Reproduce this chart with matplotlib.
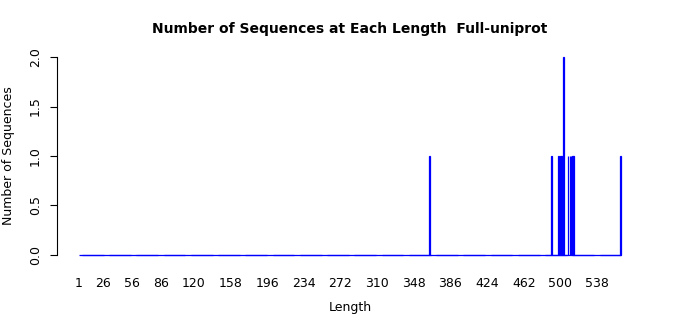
import numpy as np
import matplotlib
matplotlib.use("Agg")
import matplotlib.pyplot as plt

# Data
max_length = 562
nonzero_lengths = [364, 491, 498, 500, 501, 503, 508, 510, 511, 512, 513, 514, 562]
nonzero_counts = [1, 1, 1, 1, 1, 2, 1, 1, 1, 1, 1, 1, 1]
tick_labels = [1, 26, 56, 86, 120, 158, 196, 234, 272, 310, 348, 386, 424, 462, 500, 538]
yticks = [0.0, 0.5, 1.0, 1.5, 2.0]
title = "Number of Sequences at Each Length  Full-uniprot"

lengths = np.arange(1, max_length + 1)
counts = np.zeros(len(lengths))
for L, c in zip(nonzero_lengths, nonzero_counts):
    counts[L - 1] = c

W, H = 700, 315
fig = plt.figure(figsize=(W / 100, H / 100), dpi=100)

# pixel mapping
px_per_unit = (597 - 79) / (538 - 1)
ax_left_px, ax_right_px = 57, 643
ax = fig.add_axes([ax_left_px / W, (H - 262.9) / H, (ax_right_px - ax_left_px) / W, 213.8 / H])
xmin = 1 - (79 - ax_left_px) / px_per_unit
xmax = xmin + (ax_right_px - ax_left_px) / px_per_unit
ax.set_xlim(xmin, xmax)
ax.set_ylim(-0.08, 2.08)

bw = 0.8
ax.bar(lengths, counts, width=bw, color="#0000ff", edgecolor="#0000ff", linewidth=0.9)
# zero-height bars render as a continuous baseline
ax.plot([lengths[0] - bw / 2, lengths[-1] + bw / 2], [0, 0], color="#0000ff", linewidth=0.9,
        solid_capstyle="butt")

for s in ["top", "right", "bottom"]:
    ax.spines[s].set_visible(False)
ax.spines["left"].set_bounds(0, 2)
ax.spines["left"].set_linewidth(0.8)

ax.set_yticks(yticks)
ax.set_yticklabels([f"{v:.1f}" for v in yticks], rotation=90, va="center", fontsize=9)
ax.tick_params(axis="y", length=5, width=0.8, pad=6)
ax.set_xticks(tick_labels)
ax.set_xticklabels([str(v) for v in tick_labels], fontsize=9)
ax.tick_params(axis="x", length=0, pad=10)

fig.text(350 / W, 1 - 29 / H, title, ha="center", va="center", fontsize=10, fontweight="bold")
fig.text(350 / W, 1 - 307 / H, "Length", ha="center", va="center", fontsize=9)
fig.text(9 / W, 1 - 156 / H, "Number of Sequences", ha="center", va="center", rotation=90, fontsize=9)

fig.savefig("out.png", dpi=100)
